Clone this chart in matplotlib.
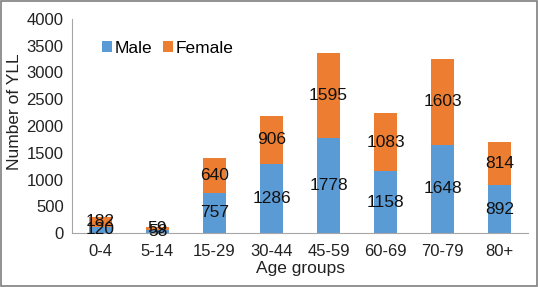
import matplotlib
matplotlib.use("Agg")
import matplotlib.pyplot as plt
import numpy as np

plt.rcParams["font.family"] = ["Liberation Sans", "DejaVu Sans"]

age_groups = ["0-4", "5-14", "15-29", "30-44", "45-59", "60-69", "70-79", "80+"]
male = [120, 58, 757, 1286, 1778, 1158, 1648, 892]
female = [182, 59, 640, 906, 1595, 1083, 1603, 814]

BLUE = "#5B9BD5"
ORANGE = "#ED7D31"

fig = plt.figure(figsize=(5.38, 2.87), dpi=100)
ax = fig.add_axes([72 / 538, 1 - 233 / 287, 456 / 538, 214 / 287])

x = np.arange(len(age_groups))
w = 0.41
ax.bar(x, male, w, color=BLUE, label="Male")
ax.bar(x, female, w, bottom=male, color=ORANGE, label="Female")

for i in range(len(x)):
    ax.text(x[i], male[i] / 2, str(male[i]), ha="center", va="center", fontsize=12.5, color="#111111")
    ax.text(x[i], male[i] + female[i] / 2, str(female[i]), ha="center", va="center", fontsize=12.5, color="#111111")

ax.set_xlim(-0.5, len(age_groups) - 0.5)
ax.set_ylim(0, 4000)
ax.set_yticks(range(0, 4001, 500))
ax.set_xticks(x)
ax.set_xticklabels(age_groups)
ax.tick_params(axis="both", labelsize=12, length=0, colors="#222222")
ax.tick_params(axis="y", pad=6)
ax.tick_params(axis="x", pad=8)

for s in ["top", "right"]:
    ax.spines[s].set_visible(False)
ax.spines["left"].set_color("#A6A6A6")
ax.spines["bottom"].set_color("#A6A6A6")

ax.set_ylabel("Number of YLL", fontsize=12.5, color="#222222")
ax.yaxis.set_label_coords(-0.11, 0.565)
ax.set_xlabel("Age groups", fontsize=12.5, color="#222222", labelpad=1)

ax.legend(loc="upper left", bbox_to_anchor=(0.05, 0.93), ncol=2, frameon=False,
          fontsize=12.5, handlelength=0.6, handleheight=0.6, handletextpad=0.15,
          columnspacing=0.6, borderaxespad=0)

fig.patches.append(plt.Rectangle((0.002, 0.003), 0.996, 0.994, transform=fig.transFigure,
                                 fill=False, edgecolor="#7F7F7F", linewidth=1.2))

fig.savefig("out.png", dpi=100)
